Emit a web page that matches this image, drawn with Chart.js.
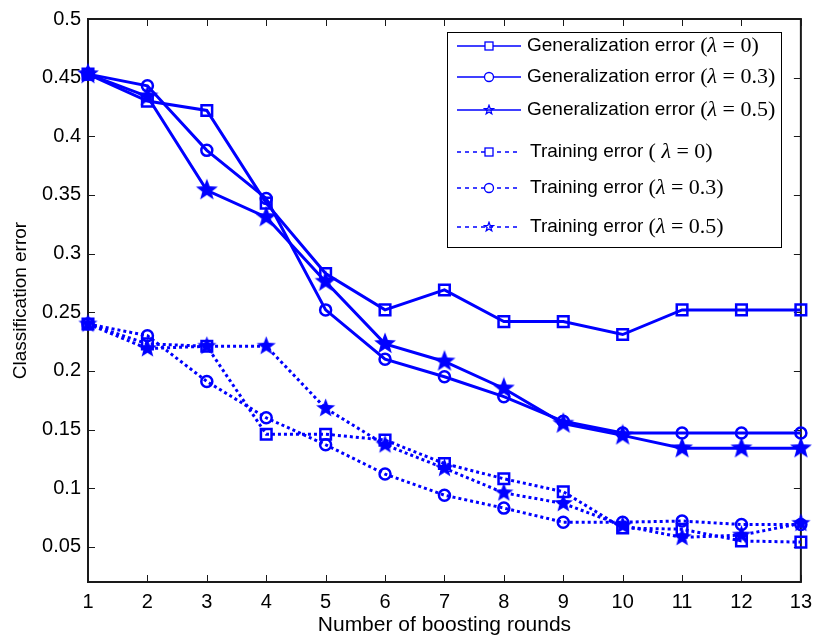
<!DOCTYPE html>
<html>
<head>
<meta charset="utf-8">
<script src="https://cdn.jsdelivr.net/npm/chart.js@4/dist/chart.umd.min.js"></script>
<style>
  body { margin: 0; background: #fff; }
</style>
</head>
<body>
<canvas id="chart" width="820" height="644"></canvas>
<script>
// boosting rounds (x axis)
const rounds = [1, 2, 3, 4, 5, 6, 7, 8, 9, 10, 11, 12, 13];
// values
const genL0   = [0.453, 0.430, 0.422, 0.343, 0.283, 0.252, 0.269, 0.242, 0.242, 0.231, 0.252, 0.252, 0.252];
const genL03  = [0.453, 0.443, 0.388, 0.347, 0.252, 0.210, 0.195, 0.178, 0.157, 0.147, 0.147, 0.147, 0.147];
const genL05  = [0.453, 0.434, 0.354, 0.331, 0.276, 0.223, 0.208, 0.185, 0.155, 0.145, 0.134, 0.134, 0.134];
const trainL0  = [0.240, 0.223, 0.221, 0.146, 0.146, 0.141, 0.121, 0.108, 0.097, 0.066, 0.065, 0.055, 0.054];
const trainL03 = [0.240, 0.230, 0.191, 0.160, 0.137, 0.112, 0.094, 0.083, 0.071, 0.071, 0.072, 0.069, 0.069];
const trainL05 = [0.240, 0.219, 0.221, 0.221, 0.168, 0.137, 0.117, 0.096, 0.087, 0.068, 0.058, 0.060, 0.070];
const yTicks = [0.05, 0.1, 0.15, 0.2, 0.25, 0.3, 0.35, 0.4, 0.45, 0.5];
const lambdas = ["0", "0.3", "0.5"];
const genName = "Generalization error ";
const trainName = "Training error ";

const blue = "#0000ff";

// filled / hollow five point star used as marker
function makeStar(size, filled, lw) {
  const c = document.createElement("canvas");
  c.width = size; c.height = size;
  const g = c.getContext("2d");
  const R = size / 2 - (filled ? 0.5 : lw);
  const r = R * 0.42;
  g.beginPath();
  for (let i = 0; i < 10; i++) {
    const a = -Math.PI / 2 + i * Math.PI / 5;
    const rad = i % 2 === 0 ? R : r;
    const px = size / 2 + rad * Math.cos(a);
    const py = size / 2 + rad * Math.sin(a);
    if (i === 0) g.moveTo(px, py); else g.lineTo(px, py);
  }
  g.closePath();
  if (filled) { g.fillStyle = blue; g.fill(); }
  else { g.strokeStyle = blue; g.lineWidth = lw; g.stroke(); }
  return c;
}
const starBig = makeStar(24, true);
const starMid = makeStar(21, true);
const starLegend = makeStar(12, false, 1.3);

function pts(arr) {
  return rounds.map((r, i) => ({ x: r, y: arr[i] }));
}

function series(label, arr, marker, dotted, lam) {
  const ds = {
    label: label,
    lam: lam,
    data: pts(arr),
    borderColor: blue,
    backgroundColor: "rgba(0,0,0,0)",
    borderWidth: 3,
    borderDash: dotted ? [3, 3] : [],
    pointBorderColor: blue,
    pointBackgroundColor: "rgba(0,0,0,0)",
    pointBorderWidth: 2.5,
    pointStyle: marker,
    pointRadius: marker === "rect" ? 7.5 : 5.5,
    tension: 0,
    clip: false,
    dotted: dotted
  };
  if (marker === "star") {
    ds.pointStyle = dotted ? starMid : starBig;
    ds.markerKind = "star";
  } else {
    ds.markerKind = marker;
  }
  return ds;
}

const datasets = [
  series(genName, genL0, "rect", false, lambdas[0]),
  series(genName, genL03, "circle", false, lambdas[1]),
  series(genName, genL05, "star", false, lambdas[2]),
  series(trainName, trainL0, "rect", true, lambdas[0]),
  series(trainName, trainL03, "circle", true, lambdas[1]),
  series(trainName, trainL05, "star", true, lambdas[2])
];

// box with inward ticks, matlab style
const boxPlugin = {
  id: "box",
  beforeDatasetsDraw(chart) {
    const ctx = chart.ctx;
    const a = chart.chartArea;
    const xs = chart.scales.x, ys = chart.scales.y;
    ctx.save();
    ctx.strokeStyle = "#1a1a1a";
    ctx.lineWidth = 2;
    ctx.strokeRect(a.left, a.top, a.right - a.left, a.bottom - a.top);
    ctx.lineWidth = 1;
    const tl = 7;
    ctx.beginPath();
    rounds.forEach(r => {
      const px = Math.round(xs.getPixelForValue(r)) + 0.5;
      ctx.moveTo(px, a.bottom); ctx.lineTo(px, a.bottom - tl);
      ctx.moveTo(px, a.top); ctx.lineTo(px, a.top + tl);
    });
    yTicks.forEach(v => {
      const py = Math.round(ys.getPixelForValue(v)) + 0.5;
      ctx.moveTo(a.left, py); ctx.lineTo(a.left + tl, py);
      ctx.moveTo(a.right, py); ctx.lineTo(a.right - tl, py);
    });
    ctx.stroke();
    ctx.restore();
  }
};

// legend box drawn by hand (mixed fonts for lambda)
const legendPlugin = {
  id: "matlabLegend",
  afterDraw(chart) {
    const ctx = chart.ctx;
    const bx = 447, by = 32, bw = 334, bh = 215;
    const rowY = [46, 77, 110, 152, 188, 227];
    ctx.save();
    ctx.fillStyle = "#fff";
    ctx.fillRect(bx, by, bw, bh);
    ctx.strokeStyle = "#000";
    ctx.lineWidth = 1;
    ctx.strokeRect(bx + 0.5, by + 0.5, bw, bh);
    chart.data.datasets.forEach((ds, i) => {
      const y = rowY[i];
      // sample line
      ctx.strokeStyle = blue;
      ctx.lineWidth = 1.5;
      ctx.setLineDash(ds.dotted ? [4, 4] : []);
      ctx.beginPath();
      ctx.moveTo(457, y); ctx.lineTo(521, y);
      ctx.stroke();
      ctx.setLineDash([]);
      // marker
      const mx = 489;
      ctx.lineWidth = 1.3;
      if (ds.markerKind === "rect") {
        ctx.fillStyle = "#fff";
        ctx.fillRect(mx - 4, y - 4, 8, 8);
        ctx.strokeRect(mx - 4, y - 4, 8, 8);
      } else if (ds.markerKind === "circle") {
        ctx.fillStyle = "#fff";
        ctx.beginPath(); ctx.arc(mx, y, 4.5, 0, Math.PI * 2); ctx.fill(); ctx.stroke();
      } else {
        ctx.drawImage(starLegend, mx - 6, y - 6);
      }
      // label text
      let tx = ds.dotted ? 530 : 527;
      ctx.fillStyle = "#000";
      ctx.textBaseline = "middle";
      ctx.font = '19px "Liberation Sans", Arial, sans-serif';
      ctx.fillText(ds.label, tx, y);
      tx += ctx.measureText(ds.label).width;
      ctx.font = '22px "Liberation Serif", "Times New Roman", serif';
      const open = (ds.dotted && ds.lam === "0") ? "( " : "(";
      ctx.fillText(open, tx, y);
      tx += ctx.measureText(open).width;
      ctx.font = 'italic 22px "Liberation Serif", "Times New Roman", serif';
      ctx.fillText("\u03bb", tx, y);
      tx += ctx.measureText("\u03bb").width;
      ctx.font = '22px "Liberation Serif", "Times New Roman", serif';
      ctx.fillText(" = " + ds.lam + ")", tx, y);
    });
    ctx.restore();
  }
};

const ctx = document.getElementById("chart").getContext("2d");
new Chart(ctx, {
  type: "line",
  data: { datasets: datasets },
  options: {
    responsive: false,
    animation: false,
    devicePixelRatio: 1,
    layout: { padding: { left: 0, right: 12, top: 13, bottom: 0 } },
    plugins: { legend: { display: false }, tooltip: { enabled: false } },
    scales: {
      x: {
        type: "linear",
        min: 1,
        max: 13,
        afterBuildTicks: s => { s.ticks = rounds.map(v => ({ value: v })); },
        afterFit: s => { s.height = 62; },
        grid: { display: false, drawTicks: false },
        border: { display: false },
        ticks: {
          padding: 8,
          color: "#000",
          font: { family: '"Liberation Sans", Arial, sans-serif', size: 20 }
        },
        title: {
          display: true,
          text: "Number of boosting rounds",
          color: "#000",
          padding: { top: 0, bottom: 6 },
          font: { family: '"Liberation Sans", Arial, sans-serif', size: 21 }
        }
      },
      y: {
        min: 0.02,
        max: 0.5,
        afterBuildTicks: s => { s.ticks = yTicks.map(v => ({ value: v })); },
        afterFit: s => { s.width = 88; },
        grid: { display: false, drawTicks: false },
        border: { display: false },
        ticks: {
          padding: 7,
          color: "#000",
          callback: v => String(Math.round(v * 100) / 100),
          font: { family: '"Liberation Sans", Arial, sans-serif', size: 20 }
        },
        title: {
          display: true,
          text: "Classification error",
          color: "#000",
          padding: { top: 9, bottom: 0 },
          font: { family: '"Liberation Sans", Arial, sans-serif', size: 19 }
        }
      }
    }
  },
  plugins: [boxPlugin, legendPlugin]
});
</script>
</body>
</html>
